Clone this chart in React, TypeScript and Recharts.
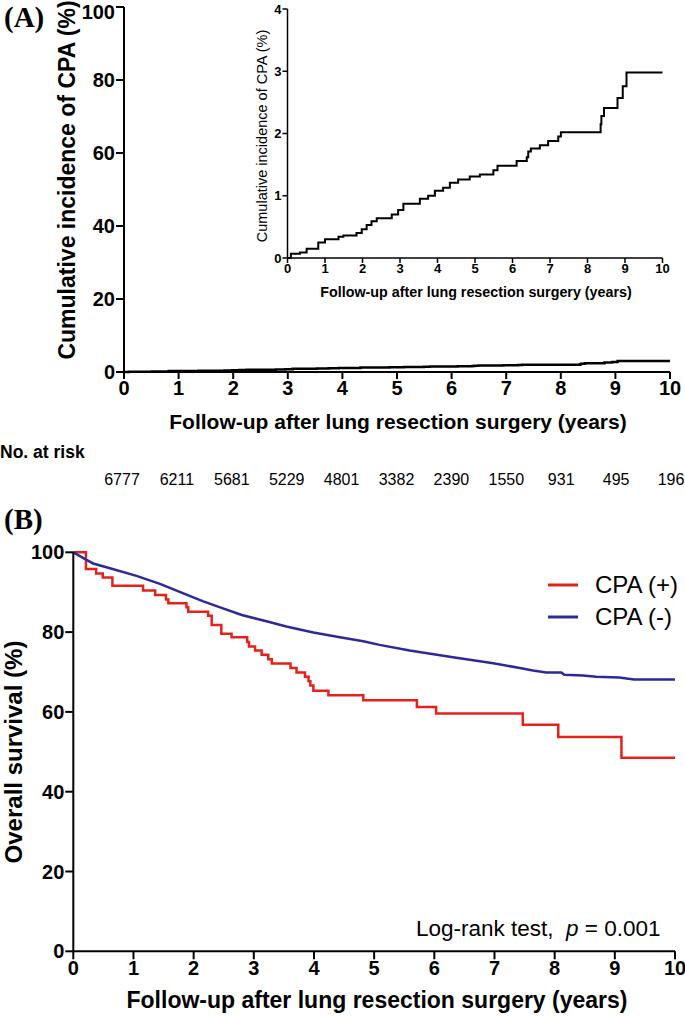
import React from "react";
import { LineChart, Line, XAxis, YAxis, Legend } from "recharts";

// follow-up ticks (years) and numbers at risk
const years = [0, 1, 2, 3, 4, 5, 6, 7, 8, 9, 10];
const atRisk = [6777, 6211, 5681, 5229, 4801, 3382, 2390, 1550, 931, 495, 196];

// cumulative incidence of CPA (%), step changes
const cpaYears = [
  0, 0.09, 0.33, 0.51, 0.82, 1.0, 1.36, 1.49, 1.84, 1.98, 2.11, 2.24, 2.38, 2.78,
  2.95, 3.09, 3.53, 3.75, 3.93, 4.15, 4.33, 4.55, 4.86, 5.13, 5.49, 5.6, 6.11,
  6.38, 6.42, 6.49, 6.73, 6.95, 7.22, 7.29, 8.35, 8.37, 8.44, 8.8, 8.94, 9.04, 10,
];
const cpaIncidence = [
  0, 0.07, 0.09, 0.15, 0.25, 0.3, 0.34, 0.36, 0.4, 0.46, 0.53, 0.59, 0.64, 0.7,
  0.77, 0.87, 0.95, 1.0, 1.08, 1.13, 1.21, 1.26, 1.31, 1.34, 1.41, 1.48, 1.56,
  1.62, 1.71, 1.76, 1.81, 1.88, 1.95, 2.02, 2.15, 2.28, 2.41, 2.57, 2.76, 2.98, 2.98,
];

// overall survival (%), CPA (+)
const posYears = [
  0, 0.21, 0.38, 0.49, 0.65, 1.16, 1.36, 1.54, 1.58, 1.88, 1.91, 2.24, 2.3, 2.46,
  2.63, 2.89, 2.92, 3.02, 3.13, 3.24, 3.3, 3.61, 3.71, 3.85, 3.91, 3.94, 3.99,
  4.24, 4.82, 5.71, 6.03, 7.47, 8.06, 9.11, 10,
];
const posSurvival = [
  100, 95.8, 94.7, 93.7, 91.6, 90.4, 89.3, 88.2, 87.2, 86.2, 85.1, 84.1, 81.8, 79.6,
  78.7, 77.5, 76.4, 75.4, 74.3, 73.2, 72.1, 71.0, 69.9, 68.8, 67.7, 66.6, 65.3,
  64.2, 62.9, 61.2, 59.6, 56.8, 53.7, 48.5, 48.5,
];

// overall survival (%), CPA (-)
const negYears = [
  0, 0.22, 0.33, 0.61, 1.05, 1.44, 1.83, 2.16, 2.44, 2.8, 3.21, 3.54, 3.99, 4.43,
  4.82, 5.09, 5.59, 6.31, 6.98, 7.42, 7.64, 7.86, 8.11, 8.16, 8.47, 8.69, 9.07,
  9.32, 10,
];
const negSurvival = [
  100, 98.1, 97.2, 96.0, 94.1, 92.1, 89.7, 87.7, 86.2, 84.3, 82.7, 81.4, 79.9, 78.7,
  77.7, 76.8, 75.4, 73.7, 72.2, 71.0, 70.4, 69.9, 69.9, 69.3, 69.1, 68.8, 68.6,
  68.1, 68.1,
];

const cpaData = cpaYears.map((t, i) => ({ t, v: cpaIncidence[i] }));
const posData = posYears.map((t, i) => ({ t, v: posSurvival[i] }));
const negData = negYears.map((t, i) => ({ t, v: negSurvival[i] }));
const riskData = years.map((t) => ({ t }));

const SANS = "'Liberation Sans', Arial, sans-serif";
const RED = "#e4221b";
const BLUE = "#2c2a9a";

const boldTick = (size: number) => ({
  fill: "#000",
  fontSize: size,
  fontWeight: 700,
  fontFamily: SANS,
});

const abs = (left: number, top: number, style: React.CSSProperties = {}) =>
  ({ position: "absolute", left, top, whiteSpace: "nowrap", ...style } as React.CSSProperties);

const vTitle = (cx: number, cy: number, size: number, weight: number) =>
  abs(cx, cy, {
    transform: "translate(-50%, -50%) rotate(-90deg)",
    fontFamily: SANS,
    fontSize: size,
    fontWeight: weight,
    lineHeight: 1,
  });

const hTitle = (cx: number, cy: number, size: number, weight: number) =>
  abs(cx, cy, {
    transform: "translate(-50%, -50%)",
    fontFamily: SANS,
    fontSize: size,
    fontWeight: weight,
    lineHeight: 1,
  });

const LegendBox = (props: any) => (
  <div>
    {(props.payload || []).map((p: any) => (
      <div key={p.value} style={{ display: "flex", alignItems: "center", height: 32 }}>
        <svg width={30} height={4} style={{ marginRight: 17 }}>
          <line x1={0} y1={2} x2={30} y2={2} stroke={p.color} strokeWidth={3} />
        </svg>
        <span style={{ fontFamily: SANS, fontSize: 24, lineHeight: 1, color: "#000" }}>{p.value}</span>
      </div>
    ))}
  </div>
);

export default function App() {
  return (
    <div style={{ position: "absolute", left: 0, top: 0, width: 685, height: 1017, background: "#fff", overflow: "hidden" }}>
      {/* panel A */}
      <div style={abs(4, 3, { fontFamily: "'Liberation Serif', serif", fontWeight: 700, fontSize: 29, lineHeight: 1 })}>(A)</div>
      <div style={abs(0, 0)}>
        <LineChart width={685} height={440} margin={{ top: 7, right: 15, left: 0, bottom: 0 }}>
          <XAxis
            type="number"
            dataKey="t"
            domain={[0, 10]}
            ticks={years}
            height={68}
            stroke="#000"
            strokeWidth={2}
            tickSize={7}
            tickMargin={2}
            tick={boldTick(20)}
          />
          <YAxis
            type="number"
            domain={[0, 100]}
            ticks={[0, 20, 40, 60, 80, 100]}
            width={124}
            stroke="#000"
            strokeWidth={2}
            tickSize={8}
            tickMargin={1}
            tick={boldTick(20)}
          />
          <Line data={cpaData} dataKey="v" type="stepAfter" stroke="#000" strokeWidth={2.5} dot={false} isAnimationActive={false} />
        </LineChart>
      </div>
      <div style={vTitle(67, 180, 23, 700)}>Cumulative incidence of CPA (%)</div>
      <div style={hTitle(398, 421, 21, 700)}>Follow-up after lung resection surgery (years)</div>

      {/* inset */}
      <div style={abs(230, 0)}>
        <LineChart width={445} height={300} margin={{ top: 9, right: 12.5, left: 0, bottom: 0 }}>
          <XAxis
            type="number"
            dataKey="t"
            domain={[0, 10]}
            ticks={years}
            height={42}
            stroke="#000"
            strokeWidth={1.5}
            tickSize={5}
            tickMargin={1}
            tick={boldTick(13)}
          />
          <YAxis
            type="number"
            domain={[0, 4]}
            ticks={[0, 1, 2, 3, 4]}
            width={57.5}
            stroke="#000"
            strokeWidth={1.5}
            tickSize={5}
            tickMargin={1}
            tick={boldTick(13)}
          />
          <Line data={cpaData} dataKey="v" type="stepAfter" stroke="#000" strokeWidth={2} dot={false} isAnimationActive={false} />
        </LineChart>
      </div>
      <div style={vTitle(262, 136, 14.5, 400)}>Cumulative incidence of CPA (%)</div>
      <div style={hTitle(476, 292, 14.3, 700)}>Follow-up after lung resection surgery (years)</div>

      {/* numbers at risk */}
      <div style={abs(0, 444, { fontFamily: SANS, fontWeight: 700, fontSize: 17.5, lineHeight: 1 })}>No. at risk</div>
      <div style={abs(0, 468)}>
        <LineChart width={685} height={34} data={riskData} margin={{ top: 0, right: 14, left: 122, bottom: 0 }}>
          <XAxis
            type="number"
            dataKey="t"
            domain={[0, 10]}
            ticks={years}
            height={30}
            axisLine={false}
            tickLine={false}
            tickSize={0}
            tickMargin={2}
            tickFormatter={(v: number) => String(atRisk[years.indexOf(v)])}
            tick={{ fill: "#000", fontSize: 16, fontFamily: SANS }}
            interval={0}
          />
        </LineChart>
      </div>

      {/* panel B */}
      <div style={abs(4, 505, { fontFamily: "'Liberation Serif', serif", fontWeight: 700, fontSize: 29, lineHeight: 1 })}>(B)</div>
      <div style={abs(0, 530)}>
        <LineChart width={685} height={487} margin={{ top: 22.3, right: 10, left: 0, bottom: 0 }}>
          <XAxis
            type="number"
            dataKey="t"
            domain={[0, 10]}
            ticks={years}
            height={65.7}
            stroke="#000"
            strokeWidth={2}
            tickSize={8}
            tickMargin={1}
            tick={boldTick(20)}
          />
          <YAxis
            type="number"
            domain={[0, 100]}
            ticks={[0, 20, 40, 60, 80, 100]}
            width={73.3}
            stroke="#000"
            strokeWidth={2}
            tickSize={8}
            tickMargin={1}
            tick={boldTick(20)}
          />
          <Legend
            layout="horizontal"
            verticalAlign="middle"
            align="center"
            wrapperStyle={{ left: 548, top: 39, width: 140 }}
            content={LegendBox}
          />
          <Line name="CPA (+)" data={posData} dataKey="v" type="stepAfter" stroke={RED} strokeWidth={2.5} dot={false} isAnimationActive={false} />
          <Line name="CPA (-)" data={negData} dataKey="v" type="linear" stroke={BLUE} strokeWidth={2.5} dot={false} isAnimationActive={false} />
        </LineChart>
      </div>
      <div style={vTitle(14, 752, 24, 700)}>Overall survival (%)</div>
      <div style={hTitle(377, 1000, 23, 700)}>Follow-up after lung resection surgery (years)</div>
      <div style={abs(416, 918, { fontFamily: SANS, fontSize: 22.5, lineHeight: 1 })}>
        Log-rank test,&nbsp;&nbsp;<span style={{ fontStyle: "italic" }}>p</span> = 0.001
      </div>
    </div>
  );
}
